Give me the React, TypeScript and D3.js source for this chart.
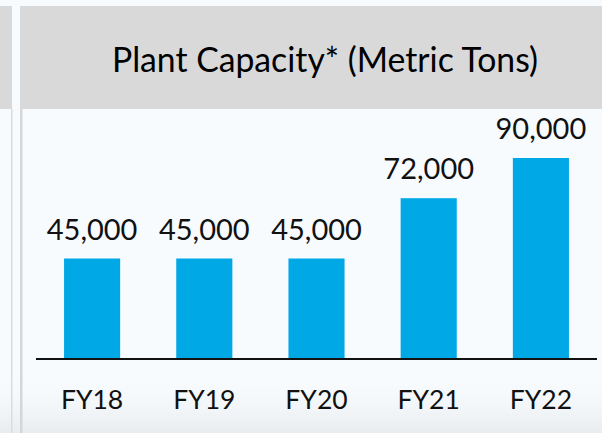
import React from 'react';
import * as d3 from 'd3';

const years = ['FY18', 'FY19', 'FY20', 'FY21', 'FY22'];
const capacity = [45000, 45000, 45000, 72000, 90000];
const title = 'Plant Capacity* (Metric Tons)';

const W = 602;
const H = 433;
const font = 'Lato, "Open Sans", sans-serif';

const App = () => {
    const data = years.map((y, i) => ({ year: y, value: capacity[i] }));

    const x = d3.scaleBand()
        .domain(years)
        .range([36, 597])
        .paddingInner(0.5)
        .paddingOuter(0.25);

    const base = 359;
    const y = d3.scaleLinear()
        .domain([0, 90000])
        .range([base, 158]);

    const fmt = d3.format(',');

    return (
        <div style={{ position: 'fixed', left: 0, top: 0 }}>
            <svg width={W} height={H} style={{ display: 'block' }}>
                <defs>
                    <linearGradient id="bottomShade" x1="0" y1="0" x2="0" y2="1">
                        <stop offset="0" stopColor="#f7fbfe" stopOpacity={0} />
                        <stop offset="1" stopColor="#e9ecef" stopOpacity={1} />
                    </linearGradient>
                </defs>
                <rect width={W} height={H} fill="#f7fbfe" />
                <path d={`M0,372 C150,385 300,392 ${W},378 L${W},${H} L0,${H} Z`} fill="url(#bottomShade)" />

                {/* header panels */}
                <rect x={0} y={6} width={12} height={103} fill="#d9d9d9" />
                <rect x={20} y={6} width={W - 20} height={103} fill="#d9d9d9" />
                <rect x={11} y={109} width={1.5} height={H - 109} fill="#dcdcdc" />
                <rect x={20} y={109} width={2.5} height={H - 109} fill="#d6d6d6" />

                <text x={325} y={72} textAnchor="middle" fontFamily={font} fontSize={34}
                    fill="#000" textLength={426} lengthAdjust="spacingAndGlyphs">{title}</text>

                {data.map(d =>
                    <g key={d.year}>
                        <rect x={x(d.year)} y={y(d.value)} width={x.bandwidth()} height={base - y(d.value)} fill="#00a8e6" />
                        <text x={x(d.year)! + x.bandwidth() / 2} y={y(d.value) - 19} textAnchor="middle"
                            fontFamily={font} fontSize={29} fill="#111">{fmt(d.value)}</text>
                        <text x={x(d.year)! + x.bandwidth() / 2} y={409} textAnchor="middle"
                            fontFamily={font} fontSize={26.5} fill="#111">{d.year}</text>
                    </g>
                )}

                <line x1={36} x2={597} y1={base} y2={base} stroke="#111" strokeWidth={2} />
            </svg>
        </div>
    );
};

export default App;
